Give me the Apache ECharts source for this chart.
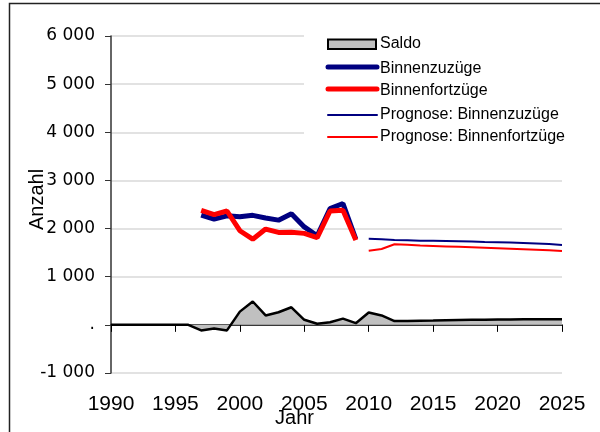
<!DOCTYPE html>
<html>
<head>
<meta charset="utf-8">
<script src="https://cdn.jsdelivr.net/npm/echarts@6/dist/echarts.min.js"></script>
<style>
  html, body { margin: 0; padding: 0; background: #fff; }
  #chart { width: 600px; height: 432px; }
</style>
</head>
<body>
<div id="chart"></div>
<script>
  // Werte
  const yearsHist = [1997, 1998, 1999, 2000, 2001, 2002, 2003, 2004, 2005, 2006, 2007, 2008, 2009];
  const zuzuege   = [2280, 2195, 2265, 2245, 2275, 2220, 2175, 2310, 2035, 1850, 2415, 2520, 1780];
  const fortzuege = [2380, 2290, 2365, 1955, 1780, 1990, 1920, 1925, 1900, 1810, 2365, 2380, 1760];

  const yearsProg = [2010, 2011, 2012, 2013, 2014, 2015, 2016, 2017, 2018, 2019, 2020, 2021, 2022, 2023, 2024, 2025];
  const progZu    = [1790, 1780, 1765, 1755, 1745, 1745, 1740, 1735, 1730, 1720, 1715, 1710, 1700, 1690, 1680, 1660];
  const progFort  = [1540, 1575, 1675, 1665, 1650, 1640, 1630, 1620, 1610, 1600, 1590, 1580, 1570, 1560, 1550, 1535];

  const yearsSaldo = [1990, 1991, 1992, 1993, 1994, 1995, 1996, 1997, 1998, 1999, 2000, 2001, 2002, 2003, 2004, 2005, 2006, 2007,
                      2008, 2009, 2010, 2011, 2012, 2013, 2014, 2015, 2016, 2017, 2018, 2019, 2020, 2021, 2022, 2023, 2024, 2025];
  const saldo      = [0, 0, 0, 0, 0, 0, 0, -115, -75, -115, 275, 485, 195, 262, 365, 105, 22, 55,
                      130, 35, 255, 195, 78, 82, 86, 90, 95, 100, 104, 108, 111, 113, 115, 116, 117, 117];

  const yTicks = { min: -1000, max: 6000, step: 1000 };
  const xTicks = { min: 1990, max: 2025, step: 5 };

  const legendItems = ['Saldo', 'Binnenzuzüge', 'Binnenfortzüge', 'Prognose: Binnenzuzüge', 'Prognose: Binnenfortzüge'];

  function pairs(xs, ys) {
    return xs.map((x, i) => [x, ys[i]]);
  }

  function fmtNum(v) {
    if (v === 0) return '.';
    let s = String(Math.abs(v)).replace(/\B(?=(\d{3})+(?!\d))/g, ' ');
    return (v < 0 ? '-' : '') + s;
  }

  const chart = echarts.init(document.getElementById('chart'), null, { renderer: 'canvas' });

  // Legende von Hand, damit die Linien ohne Symbol erscheinen
  const legendRows = [44, 67, 89, 115, 137];
  const legendGraphic = [];
  // weisser Hintergrund der Legende (verdeckt die Gitterlinien)
  legendGraphic.push({
    type: 'rect', z: 10, shape: { x: 304, y: 28, width: 275, height: 124 },
    style: { fill: '#fff' }
  });
  legendGraphic.push({
    type: 'rect', z: 11, shape: { x: 328, y: 39.5, width: 48, height: 9.5 },
    style: { fill: '#c0c0c0', stroke: '#000', lineWidth: 2 }
  });
  const legendLines = [
    { color: '#000080', w: 5 },
    { color: '#ff0000', w: 5 },
    { color: '#000080', w: 2 },
    { color: '#ff0000', w: 2 }
  ];
  legendLines.forEach((l, i) => {
    legendGraphic.push({
      type: 'line', z: 11, shape: { x1: 328, y1: legendRows[i + 1], x2: 377, y2: legendRows[i + 1] },
      style: { stroke: l.color, lineWidth: l.w, lineCap: 'round' }
    });
  });
  legendItems.forEach((name, i) => {
    legendGraphic.push({
      type: 'text', z: 11, x: 380, y: legendRows[i] + (i === 1 || i === 2 ? 2 : 0),
      style: { text: name, fill: '#000', font: '16px "Liberation Sans", Arial, sans-serif', textVerticalAlign: 'middle' }
    });
  });

  const option = {
    backgroundColor: '#fff',
    animation: false,
    grid: { left: 111, right: 38, top: 36, bottom: 59, outerBoundsMode: 'none', containLabel: false },
    xAxis: [
      {
        type: 'value', min: xTicks.min, max: xTicks.max, interval: xTicks.step,
        axisLine: { show: false, onZero: false },
        axisTick: { show: false },
        splitLine: { show: false },
        axisLabel: {
          color: '#000', fontSize: 21, fontFamily: '"Liberation Sans", Arial, sans-serif', margin: 21,
          formatter: v => String(v)
        },
        name: 'Jahr', nameLocation: 'middle', nameGap: 35, nameMoveOverlap: false,
        nameTextStyle: { color: '#000', fontSize: 20, fontFamily: '"Liberation Sans", Arial, sans-serif', padding: [0, 84, 0, 0] }
      },
      {
        type: 'value', position: 'top', min: xTicks.min, max: xTicks.max, interval: xTicks.step,
        axisLine: { show: true, onZero: true, lineStyle: { color: '#000', width: 1.5 } },
        axisTick: { show: true, inside: true, length: 7, lineStyle: { color: '#000', width: 1 } },
        axisLabel: { show: false },
        splitLine: { show: false }
      }
    ],
    yAxis: {
      type: 'value', min: yTicks.min, max: yTicks.max, interval: yTicks.step,
      axisLine: { show: true, lineStyle: { color: '#333', width: 1.5 } },
      axisTick: { show: true, length: 6, lineStyle: { color: '#333', width: 1 } },
      splitLine: { lineStyle: { color: '#d9d9d9', width: 1.5 } },
      axisLabel: {
        color: '#000', fontSize: 17, fontFamily: '"DejaVu Sans", sans-serif', margin: 16,
        formatter: fmtNum
      },
      name: 'Anzahl', nameLocation: 'middle', nameGap: 64, nameMoveOverlap: false,
      nameTextStyle: { color: '#000', fontSize: 20, fontFamily: '"Liberation Sans", Arial, sans-serif', padding: [0, 0, 0, 10] }
    },
    graphic: [
      {
        type: 'rect', z: 12, shape: { x: 9.5, y: 3.5, width: 700, height: 500 },
        style: { fill: 'none', stroke: '#222', lineWidth: 1.5 }, silent: true
      }
    ].concat(legendGraphic),
    series: [
      {
        name: legendItems[0], type: 'line', xAxisIndex: 0,
        data: pairs(yearsSaldo, saldo),
        symbol: 'none',
        lineStyle: { color: '#000', width: 2.5 },
        areaStyle: { color: '#c0c0c0', opacity: 1 }
      },
      {
        name: legendItems[1], type: 'line', xAxisIndex: 0,
        data: pairs(yearsHist, zuzuege),
        symbol: 'none',
        lineStyle: { color: '#000080', width: 5 }
      },
      {
        name: legendItems[2], type: 'line', xAxisIndex: 0,
        data: pairs(yearsHist, fortzuege),
        symbol: 'none',
        lineStyle: { color: '#ff0000', width: 5 }
      },
      {
        name: legendItems[3], type: 'line', xAxisIndex: 0,
        data: pairs(yearsProg, progZu),
        symbol: 'none',
        lineStyle: { color: '#000080', width: 2 }
      },
      {
        name: legendItems[4], type: 'line', xAxisIndex: 0,
        data: pairs(yearsProg, progFort),
        symbol: 'none',
        lineStyle: { color: '#ff0000', width: 2 }
      }
    ]
  };

  chart.setOption(option);
</script>
</body>
</html>
